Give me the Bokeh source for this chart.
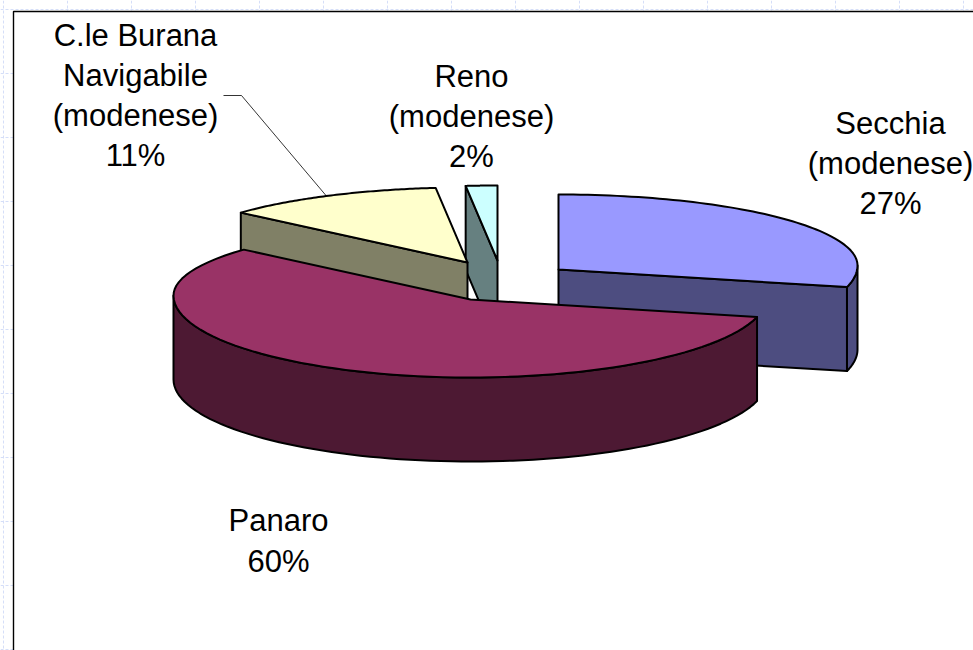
import numpy as np
from bokeh.embed import file_html
from bokeh.resources import INLINE
from bokeh.plotting import figure
from bokeh.core.properties import value

# --- data -------------------------------------------------------------
categories = ["Secchia", "Panaro", "C.le Burana", "Reno"]
shares = [27.2, 60.5, 10.8, 1.5]
label_lines = [["Secchia", "(modenese)", "27%"],
               ["Panaro", "60%"],
               ["C.le Burana", "Navigabile", "(modenese)", "11%"],
               ["Reno", "(modenese)", "2%"]]
top_colors = ["#9999FF", "#993366", "#FFFFCC", "#CCFFFF"]
wall_colors = ["#4D4D80", "#4D1933", "#808066", "#668080"]

# --- layout (page pixels) ---------------------------------------------
W, H = 973, 650
centers = {"Secchia": (558, 265), "Panaro": (470, 295), "C.le Burana": (467, 258), "Reno": (497, 256)}
radius_x = {"Secchia": 299, "Panaro": 297, "C.le Burana": 297, "Reno": 297}
back_b, front_b, apex_off, depth, persp = 71, 82, 4, 84, 0.13
label_pos = {"Secchia": (890, [123, 163, 203]), "Panaro": (278, [520, 561]),
             "C.le Burana": (135, [35, 75, 115, 155]), "Reno": (471, [76, 116, 156])}

p = figure(width=W, height=H, x_range=(0, W), y_range=(H, 0), output_backend="svg",
           toolbar_location=None, min_border=0, outline_line_color=None,
           background_fill_color="white", border_fill_color="white",
           styles={"position": "absolute", "left": "0px", "top": "0px"})
p.axis.visible = False
p.grid.visible = False

# faint slide grid outside the frame
gc = "#D5DEF8"
for gx in np.arange(3, W, 64):
    p.line([gx, gx], [0, H], line_color=gc, line_dash="3 2", line_width=1)
for gy in np.arange(9, H, 64):
    p.line([0, W], [gy, gy], line_color=gc, line_dash="3 2", line_width=1)
p.quad(left=[13], right=[W + 5], top=[11], bottom=[H + 5], fill_color="white", line_color=None)
p.line([13, 13, W], [H, 11, 11], line_color="black", line_width=1.4)


def rim(name, t0, t1, n=80):
    """Perspective projected rim points between clock angles t0..t1 (degrees)."""
    cx, cy = centers[name]
    a = radius_x[name]
    t = np.radians(np.linspace(t0, t1, n))
    X, Z = np.sin(t), np.cos(t)
    d = 1 - persp * Z
    Xp = X * np.sqrt(1 - persp ** 2) / d
    Zp = (Z - persp) / d
    return cx + a * Xp, cy - np.where(Zp > 0, back_b, front_b) * Zp


def apex(name):
    cx, cy = centers[name]
    return cx, cy + apex_off


def poly(xs, ys, fill, lw=2.0):
    p.patch(list(xs), list(ys), fill_color=fill, line_color="black", line_width=lw, line_join="round")


edges = np.concatenate([[0], np.cumsum(shares)]) * 3.6
ang = {c: (edges[i], edges[i + 1]) for i, c in enumerate(categories)}
top = {c: top_colors[i] for i, c in enumerate(categories)}
wall = {c: wall_colors[i] for i, c in enumerate(categories)}
side_angle = np.degrees(np.arccos(persp))  # where the rim reaches its widest point


def rim_wall(name):
    t0, t1 = ang[name]
    t0, t1 = max(t0, side_angle), min(t1, 360 - side_angle)
    rx, ry = rim(name, t0, t1)
    poly(np.r_[rx, rx[::-1]], np.r_[ry, ry[::-1] + depth], wall[name])


def radial_wall(name, at_angle):
    rx, ry = rim(name, at_angle, at_angle, 1)
    ax, ay = apex(name)
    poly([rx[0], ax, ax, rx[0]], [ry[0], ay, ay + depth, ry[0] + depth], wall[name])


def top_face(name):
    t0, t1 = ang[name]
    rx, ry = rim(name, t0, t1)
    ax, ay = apex(name)
    poly(np.r_[ax, rx], np.r_[ay, ry], top[name])


# Secchia
rim_wall("Secchia")
radial_wall("Secchia", ang["Secchia"][1])
top_face("Secchia")
# Reno
radial_wall("Reno", ang["Reno"][0])
top_face("Reno")
# Burana
radial_wall("C.le Burana", ang["C.le Burana"][0])
top_face("C.le Burana")
# Panaro
rim_wall("Panaro")
top_face("Panaro")

# leader of the Burana label
lx = [223, 241, rim("C.le Burana", 335, 335, 1)[0][0]]
ly = [95, 95, rim("C.le Burana", 335, 335, 1)[1][0]]
p.line(lx, ly, line_color="black", line_width=0.8)

# labels
for c, lines in zip(categories, label_lines):
    x, ys = label_pos[c]
    p.text([x] * len(lines), ys, text=lines, text_font=value("Liberation Sans"),
           text_font_size="31px", text_color="black", text_align="center", text_baseline="middle")

open("out.html", "w").write(file_html(p, INLINE))
